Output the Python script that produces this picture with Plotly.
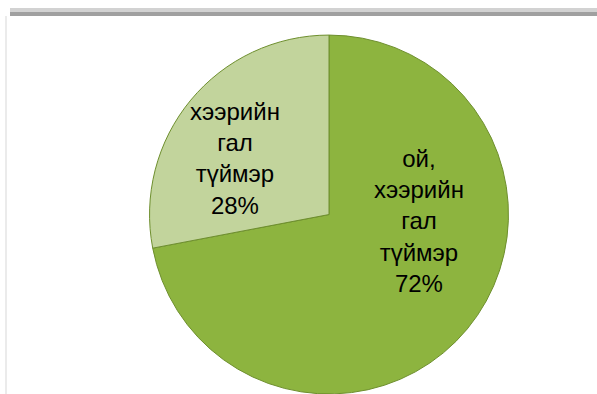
import plotly.graph_objects as go

# Share of fires by type
labels = ["ой,<br>хээрийн<br>гал<br>түймэр", "хээрийн<br>гал<br>түймэр"]
values = [72, 28]
colors = ["#8DB43F", "#C2D49C"]

# label anchor points (pixels from top-left) for each slice
label_px = [(419, 221), (235, 158)]

W, H = 597, 394
FONT = "Liberation Sans, Arial, sans-serif"

total = sum(values)

fig = go.Figure(
    go.Pie(
        labels=labels,
        values=values,
        sort=False,
        direction="clockwise",
        rotation=0,
        marker=dict(colors=colors, line=dict(color="#6E8F2E", width=1)),
        textinfo="none",
        hoverinfo="label+percent",
        showlegend=False,
        domain=dict(x=[0.2504, 0.8518], y=[0.0, 0.911]),
    )
)

annotations = []
for lab, val, (px, py) in zip(labels, values, label_px):
    annotations.append(dict(
        x=px / W, y=1 - py / H, xref="paper", yref="paper",
        xanchor="center", yanchor="middle", align="center",
        text=f"{lab}<br>{round(100 * val / total)}%",
        showarrow=False,
        font=dict(family=FONT, size=24, color="#000000"),
    ))

fig.update_layout(
    width=W,
    height=H,
    margin=dict(l=0, r=0, t=0, b=0),
    paper_bgcolor="#FFFFFF",
    plot_bgcolor="#FFFFFF",
    annotations=annotations,
    shapes=[
        # top shadow bar of the chart frame
        dict(type="rect", xref="paper", yref="paper",
             x0=10 / W, x1=1, y0=1 - 16 / H, y1=1 - 8 / H,
             fillcolor="#D2D2D2", line=dict(width=0), layer="below"),
        dict(type="rect", xref="paper", yref="paper",
             x0=10 / W, x1=1, y0=1 - 16 / H, y1=1 - 12 / H,
             fillcolor="#A0A0A0", line=dict(width=0), layer="below"),
        # faint left edge of the frame
        dict(type="line", xref="paper", yref="paper",
             x0=6 / W, x1=6 / W, y0=0, y1=1 - 16 / H,
             line=dict(color="#EBEBEB", width=2), layer="below"),
    ],
)

fig.write_html("out.html")
